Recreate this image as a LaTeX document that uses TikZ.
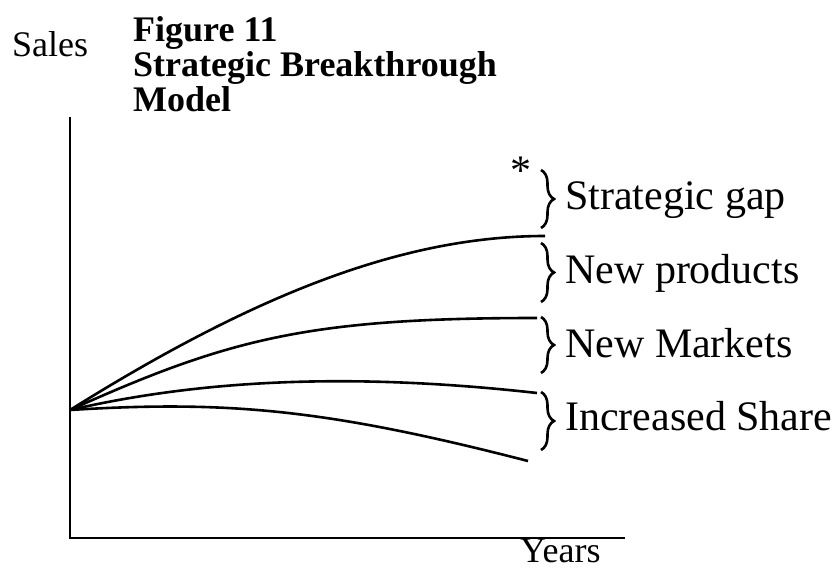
\documentclass[tikz,border=0pt]{standalone}
\usepackage{fontspec}
\setmainfont{Liberation Serif}
\usetikzlibrary{decorations.pathreplacing}
\begin{document}
\begin{tikzpicture}[x=1pt,y=1pt,
  axis/.style={line width=2.6pt},
  curve/.style={line width=2.6pt},
  bracestyle/.style={line width=2.6pt,decorate,decoration={brace,amplitude=13pt,aspect=0.5}},
  lbl/.style={anchor=base west,inner sep=0pt,font=\fontsize{42}{44}\selectfont},
  axlbl/.style={anchor=base west,inner sep=0pt,font=\fontsize{36}{38}\selectfont},
  ttl/.style={anchor=base west,inner sep=0pt,font=\fontsize{36}{38}\selectfont\bfseries}]
\useasboundingbox (0,0) rectangle (837,-569);
% axes
\coordinate (ytop) at (70,-117);
\coordinate (orig) at (70,-538);
\coordinate (xend) at (625,-538);
\draw[axis] (ytop) -- (orig) -- (xend);
% axis labels and title
\node[axlbl] (sales) at (12,-57) {Sales};
\node[axlbl] (years) at (520,-562) {Years};
\node[ttl] (t1) at (133,-42) {Figure 11};
\node[ttl] (t2) at (133,-77) {Strategic Breakthrough};
\node[ttl] (t3) at (133,-112) {Model};
% curves
\coordinate (start) at (70,-410);
\coordinate (e1) at (545,-236);
\coordinate (e2) at (537,-318);
\coordinate (e3) at (537,-393);
\coordinate (e4) at (528,-461);
\draw[curve] (start) .. controls (250,-297.5) and (400,-236) .. (e1);
\draw[curve] (start) .. controls (230,-338) and (310,-318) .. (e2);
\draw[curve] (start) .. controls (200,-380) and (350,-372) .. (e3);
\draw[curve] (start) .. controls (230,-400) and (330,-410) .. (e4);
% braces
\coordinate (b1t) at (541,-170); \coordinate (b1b) at (541,-228);
\coordinate (b2t) at (541,-243); \coordinate (b2b) at (541,-302);
\coordinate (b3t) at (541,-317); \coordinate (b3b) at (541,-373);
\coordinate (b4t) at (541,-392); \coordinate (b4b) at (541,-450);
\draw[bracestyle] (b1t) -- (b1b);
\draw[bracestyle] (b2t) -- (b2b);
\draw[bracestyle] (b3t) -- (b3b);
\draw[bracestyle] (b4t) -- (b4b);
% labels
\node[anchor=base,inner sep=0pt,font=\fontsize{42}{44}\selectfont] (star) at (521,-185) {*};
\node[lbl] (gap) at (565,-210) {Strategic gap};
\node[lbl] (prod) at (565,-283) {New products};
\node[lbl] (mark) at (565,-357) {New Markets};
\node[lbl] (share) at (565,-430) {Increased Share};
\end{tikzpicture}
\end{document}
